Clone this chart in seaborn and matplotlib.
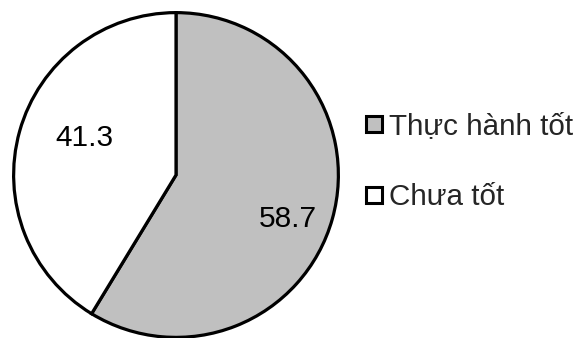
import matplotlib
matplotlib.use("Agg")
import numpy as np
import matplotlib.pyplot as plt
from matplotlib.lines import Line2D
import seaborn as sns

categories = ["Thực hành tốt", "Chưa tốt"]
values = [58.7, 41.3]
colors = ["#c0c0c0", "#ffffff"]

sns.set_style("white")
plt.rcParams["font.family"] = ["Liberation Sans", "DejaVu Sans"]

fig = plt.figure(figsize=(5.73, 3.38), dpi=100)
ax = fig.add_axes([12 / 573, -1 / 338, 328 / 573, 328 / 338])

wedges, texts, autotexts = ax.pie(
    values,
    colors=colors,
    startangle=90,
    counterclock=False,
    autopct=lambda p: f"{p:.1f}",
    pctdistance=0.7,
    wedgeprops=dict(edgecolor="black", linewidth=2.3),
    textprops=dict(fontsize=21.5, color="black"),
)
# label placement along each wedge (best-fit style)
label_dist = [0.74, 0.61]
for w, t, d in zip(wedges, autotexts, label_dist):
    ang = np.deg2rad((w.theta1 + w.theta2) / 2 - 6)
    t.set_position((d * np.cos(ang), d * np.sin(ang)))

ax.set_xlim(-1.01, 1.01)
ax.set_ylim(-1.01, 1.01)
ax.set_aspect("equal")
ax.axis("off")

handles = [
    Line2D([0], [0], marker="s", linestyle="none", markersize=11,
           markerfacecolor=c, markeredgecolor="black", markeredgewidth=2.2)
    for c in colors
]
fig.legend(
    handles, categories,
    loc="center left",
    bbox_to_anchor=(365 / 573, 1 - 162 / 338),
    frameon=False,
    fontsize=21.3,
    handlelength=0.6,
    handletextpad=0.2,
    labelspacing=1.45,
    borderaxespad=0,
    borderpad=0,
)

fig.savefig("out.png", dpi=100)
